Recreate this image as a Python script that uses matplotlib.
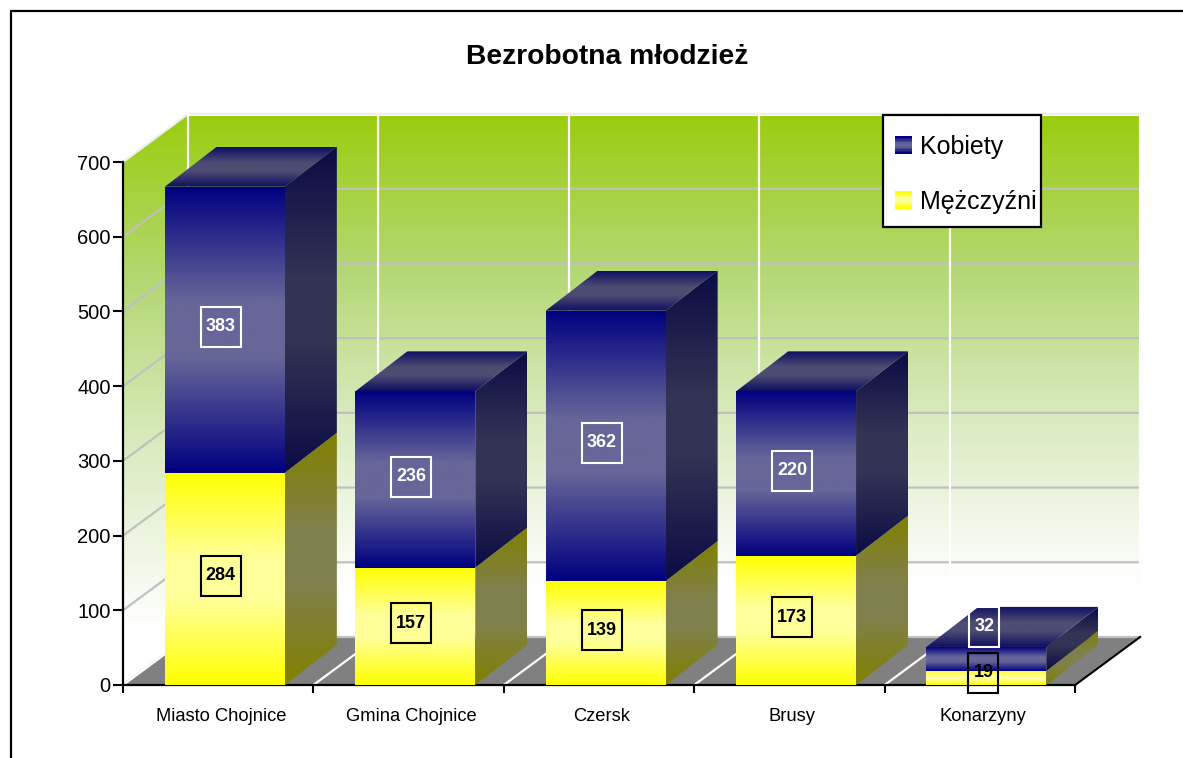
import numpy as np
import matplotlib
matplotlib.use('Agg')
import matplotlib.pyplot as plt
from matplotlib.patches import Polygon, Rectangle, Patch
from matplotlib.legend_handler import HandlerBase
from matplotlib.colors import to_rgb

plt.rcParams['font.family'] = ['Liberation Sans', 'DejaVu Sans']

kategorie = ['Miasto Chojnice', 'Gmina Chojnice', 'Czersk', 'Brusy', 'Konarzyny']
mezczyzni = [284, 157, 139, 173, 19]
kobiety = [383, 236, 362, 220, 32]
yticks = [0, 100, 200, 300, 400, 500, 600, 700]

W, H = 1183, 758
fig = plt.figure(figsize=(W/100, H/100), dpi=100)

# axes box in pixels: front plane plus the depth of the back wall
x0, x1, ytop, ybot = 123, 1140, 116, 685
sx = 190.4          # px per category
sy = 523/700        # px per unit
ax = fig.add_axes([x0/W, 1-ybot/H, (x1-x0)/W, (ybot-ytop)/H])
ax.set_xlim(0, (x1-x0)/sx)
ax.set_ylim(0, (ybot-ytop)/sy)

dxw, dyw = 65/sx, 48/sy    # wall depth
dxb, dyb = 52/sx, 40/sy    # bar depth
bl, bw = 0.22, 0.63


def grad(stops, n=256):
    # stops = [(pos, colour), ...], pos 0 is the top
    p = [s[0] for s in stops]
    c = np.array([to_rgb(s[1]) for s in stops])
    t = np.linspace(0, 1, n)
    return np.dstack([np.interp(t, p, c[:, i]).reshape(n, 1) for i in range(3)])


def fill(xy, stops, z):
    xy = np.array(xy)
    poly = Polygon(xy, closed=True, transform=ax.transData)
    im = ax.imshow(grad(stops), aspect='auto', interpolation='bilinear', zorder=z,
                   extent=[xy[:, 0].min(), xy[:, 0].max(), xy[:, 1].min(), xy[:, 1].max()])
    im.set_clip_path(poly)


wall = [(0, '#99cd0e'), (0.3, '#b4d875'), (0.6, '#dcecc4'), (0.9, '#ffffff'), (1, '#ffffff')]
xe = 5
ym = 700
fill([(dxw, dyw), (xe+dxw, dyw), (xe+dxw, ym+dyw), (dxw, ym+dyw)], wall, 1)
fill([(0, 0), (dxw, dyw), (dxw, ym+dyw), (0, ym)], wall, 1)
ax.add_patch(Polygon([(0, 0), (xe, 0), (xe+dxw, dyw), (dxw, dyw)], fc='#808080', ec='none', zorder=1.5))

# gridlines on the walls
for v in yticks:
    c = '#eeeeee' if v == 700 else '#c0c0c0'
    ax.plot([0, dxw, xe+dxw], [v, v+dyw, v+dyw], color=c, lw=1.6, zorder=2, clip_on=False)
for i in range(xe+1):
    ax.plot([i+dxw, i+dxw], [dyw, ym+dyw], color='white', lw=1.6, zorder=2, clip_on=False)
    ax.plot([i, i+dxw], [0, dyw], color='white', lw=1.6, zorder=2)
ax.plot([xe, xe+dxw], [0, dyw], color='black', lw=1.6, zorder=2.6, clip_on=False)

# colours of the three faces
blue = [(0, '#000080'), (0.4, '#666699'), (0.6, '#666699'), (1, '#000080')]
blue_side = [(0, '#0b0b45'), (0.4, '#333355'), (0.6, '#333355'), (1, '#0b0b45')]
blue_top = [(0, '#0e0e62'), (0.4, '#4d4d73'), (0.6, '#4d4d73'), (1, '#0e0e62')]
yel = [(0, '#ffff00'), (0.4, '#ffff99'), (0.6, '#ffff99'), (1, '#ffff00')]
yel_side = [(0, '#808000'), (0.4, '#80804d'), (0.6, '#80804d'), (1, '#808000')]

z = 3.0
for i in range(len(kategorie)):
    l, r = i+bl, i+bl+bw
    m, k = mezczyzni[i], kobiety[i]
    fill([(r, 0), (r+dxb, dyb), (r+dxb, m+dyb), (r, m)], yel_side, z)
    fill([(l, 0), (r, 0), (r, m), (l, m)], yel, z+.01)
    fill([(r, m), (r+dxb, m+dyb), (r+dxb, m+k+dyb), (r, m+k)], blue_side, z+.02)
    fill([(l, m), (r, m), (r, m+k), (l, m+k)], blue, z+.03)
    fill([(l, m+k), (r, m+k), (r+dxb, m+k+dyb), (l+dxb, m+k+dyb)], blue_top, z+.04)
    z += .1


def etykieta(xc, yc, txt, color, bwx=40, bhx=40):
    # box size given in px
    ww, hh = bwx/sx, bhx/sy
    ax.add_patch(Rectangle((xc-ww/2, yc-hh/2), ww, hh, fc='none', ec=color, lw=1.5, zorder=6, clip_on=False))
    ax.text(xc, yc, txt, color=color, ha='center', va='center', fontsize=13, fontweight='bold', zorder=6.1)


for i in range(4):
    xc = i+bl+bw/2-4/sx
    etykieta(xc, mezczyzni[i]/2+3/sy, mezczyzni[i], 'black')
    etykieta(xc, mezczyzni[i]+kobiety[i]/2+3/sy, kobiety[i], 'white')
# Konarzyny labels are moved away from the thin segments
xc = 4+bl+bw/2-3/sx
etykieta(xc, mezczyzni[4]/2+5/sy, mezczyzni[4], 'black', 30)
etykieta(xc+1/sx, mezczyzni[4]+kobiety[4]/2+32/sy, kobiety[4], 'white', 30)

# axes
for s in ['top', 'right']:
    ax.spines[s].set_visible(False)
ax.spines['left'].set_bounds(0, 700)
ax.spines['bottom'].set_bounds(0, 5)
ax.spines['left'].set_linewidth(1.6)
ax.spines['bottom'].set_linewidth(1.6)
ax.set_yticks(yticks)
ax.tick_params(axis='y', length=7, width=1.5, labelsize=14.5, pad=2)
ax.set_xticks(range(6))
ax.set_xticklabels([])
ax.tick_params(axis='x', which='major', length=6, width=1.5)
ax.set_xticks([i+0.515 for i in range(5)], minor=True)
ax.set_xticklabels(kategorie, minor=True, fontsize=13.2)
ax.tick_params(axis='x', which='minor', length=0, pad=16.5)

fig.text(607/W, 1-57/H, 'Bezrobotna młodzież', ha='center', va='center', fontsize=20.3, fontweight='bold')


class Paski(HandlerBase):
    def __init__(self, stops):
        super().__init__()
        self.stops = stops

    def create_artists(self, legend, orig, xd, yd, width, height, fontsize, trans):
        g = grad(self.stops, 12)
        h = width
        out = []
        for j in range(12):
            out.append(Rectangle((-xd, -yd+height/2+h/2-(j+1)*h/12), width, h/12+.2,
                                 fc=tuple(g[j, 0]), ec='none', transform=trans))
        return out


# legend box is narrower than matplotlib would make it, so it is drawn by hand
ax.add_patch(Rectangle((883/W, 1-227/H), 158/W, 112/H, transform=fig.transFigure, fc='white', ec='black',
                       lw=1.6, zorder=9.5, clip_on=False))
h1, h2 = Patch(label='Kobiety'), Patch(label='Mężczyźni')
leg = ax.legend(handles=[h1, h2], loc='upper left', fontsize=18, frameon=False,
                bbox_to_anchor=(895/W, 1-135/H), bbox_transform=fig.transFigure,
                handler_map={h1: Paski(blue), h2: Paski(yel)},
                borderaxespad=0, borderpad=0, labelspacing=1.23,
                handlelength=0.68, handletextpad=0.32)
leg.set_zorder(10)

# outer frame, runs past the canvas on the right and at the bottom
fig.add_artist(Rectangle((11/W, -0.1), 1.2, 1.1-11/H, transform=fig.transFigure, fc='none', ec='black', lw=1.6))

fig.savefig('out.png', dpi=100)
